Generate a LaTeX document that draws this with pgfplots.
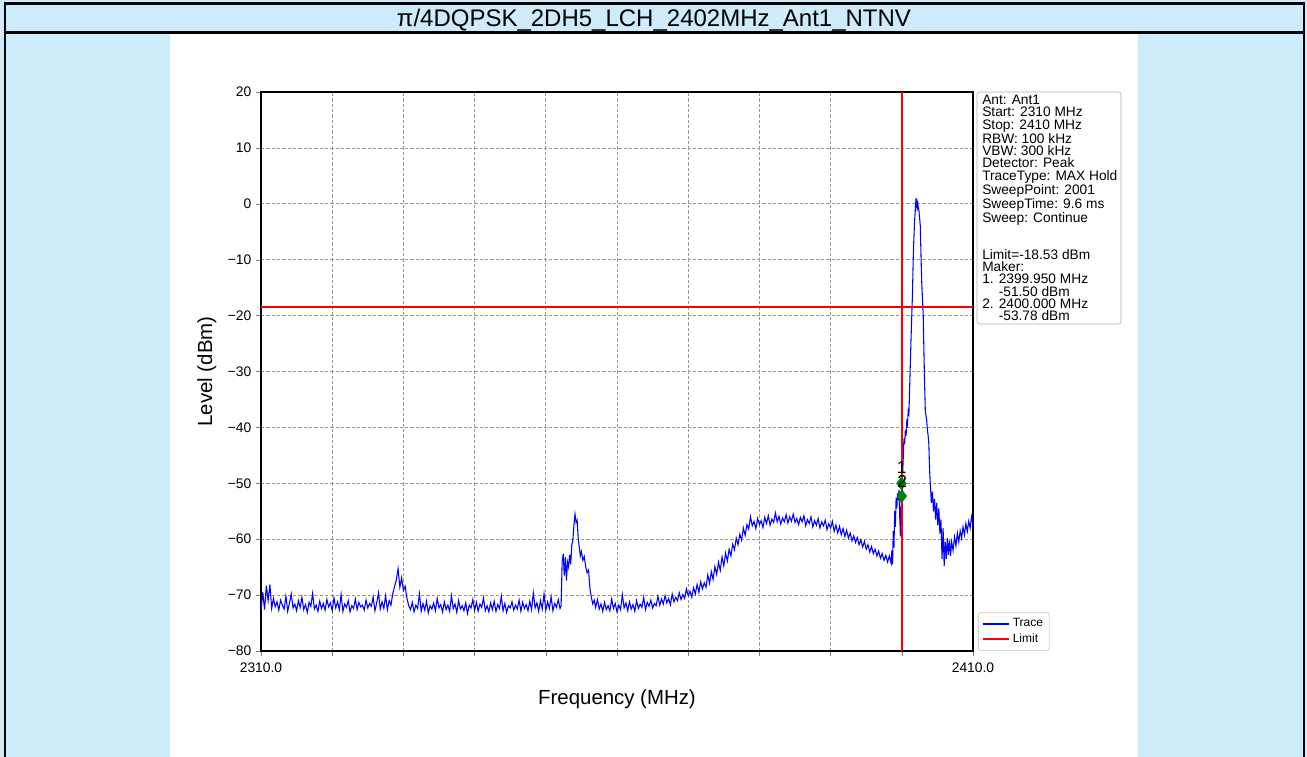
\documentclass[border=0pt]{standalone}
\usepackage{fontspec}
\setmainfont{Liberation Sans}
\usepackage{pgfplots}
\usepackage{pgfplotstable}
\pgfplotsset{compat=1.18}
\definecolor{bgblue}{HTML}{CDEBFA}
\definecolor{mgreen}{HTML}{008000}
\definecolor{limred}{HTML}{FF0000}
\definecolor{trblue}{HTML}{0000FF}
\pgfplotstableread{
f l
2310.00 -72.8
2310.25 -69.5
2310.50 -72.6
2310.75 -68.3
2311.00 -71.0
2311.25 -68.1
2311.50 -72.4
2311.75 -70.6
2312.00 -72.1
2312.25 -71.2
2312.50 -72.7
2312.75 -70.9
2313.00 -71.8
2313.25 -72.5
2313.50 -70.2
2313.75 -72.9
2314.00 -71.4
2314.25 -69.8
2314.50 -72.3
2314.75 -71.6
2315.00 -72.8
2315.25 -71.0
2315.50 -72.2
2315.75 -70.4
2316.00 -72.6
2316.25 -71.7
2316.50 -73.1
2316.75 -71.3
2317.00 -72.0
2317.25 -69.7
2317.50 -72.5
2317.75 -71.8
2318.00 -72.9
2318.25 -71.1
2318.50 -72.4
2318.75 -71.5
2319.00 -72.7
2319.25 -70.8
2319.50 -72.1
2319.75 -71.4
2320.00 -72.8
2320.25 -70.5
2320.50 -72.3
2320.75 -71.2
2321.00 -72.6
2321.25 -69.9
2321.50 -72.9
2321.75 -71.6
2322.00 -72.2
2322.25 -71.0
2322.50 -73.0
2322.75 -71.9
2323.00 -72.4
2323.25 -70.7
2323.50 -72.6
2323.75 -71.3
2324.00 -72.1
2324.25 -71.8
2324.50 -72.7
2324.75 -70.9
2325.00 -72.3
2325.25 -71.5
2325.50 -72.0
2325.75 -70.3
2326.00 -72.8
2326.25 -71.4
2326.50 -69.6
2326.75 -72.5
2327.00 -71.2
2327.25 -72.4
2327.50 -70.1
2327.75 -72.6
2328.00 -71.0
2328.25 -71.8
2328.50 -69.8
2328.75 -68.5
2329.00 -67.3
2329.25 -65.3
2329.50 -68.6
2329.75 -66.9
2330.00 -69.2
2330.25 -68.4
2330.50 -70.6
2330.75 -71.9
2331.00 -72.6
2331.25 -71.3
2331.50 -73.0
2331.75 -71.8
2332.00 -72.4
2332.25 -69.8
2332.50 -72.9
2332.75 -71.5
2333.00 -72.7
2333.25 -71.1
2333.50 -73.2
2333.75 -71.9
2334.00 -72.5
2334.25 -71.4
2334.50 -72.8
2334.75 -70.6
2335.00 -72.3
2335.25 -71.7
2335.50 -73.0
2335.75 -71.2
2336.00 -72.6
2336.25 -71.8
2336.50 -72.9
2336.75 -70.1
2337.00 -72.4
2337.25 -71.6
2337.50 -73.1
2337.75 -71.0
2338.00 -72.5
2338.25 -71.9
2338.50 -72.8
2338.75 -71.4
2339.00 -73.3
2339.25 -71.8
2339.50 -72.3
2339.75 -70.8
2340.00 -72.7
2340.25 -71.3
2340.50 -72.9
2340.75 -71.6
2341.00 -72.2
2341.25 -70.5
2341.50 -72.8
2341.75 -71.9
2342.00 -73.0
2342.25 -71.4
2342.50 -72.6
2342.75 -71.1
2343.00 -72.9
2343.25 -71.7
2343.50 -72.4
2343.75 -70.2
2344.00 -72.8
2344.25 -71.5
2344.50 -73.1
2344.75 -71.9
2345.00 -72.3
2345.25 -71.2
2345.50 -72.7
2345.75 -71.8
2346.00 -72.5
2346.25 -70.9
2346.50 -72.9
2346.75 -71.3
2347.00 -72.4
2347.25 -71.7
2347.50 -72.8
2347.75 -71.1
2348.00 -72.6
2348.25 -69.6
2348.50 -72.3
2348.75 -71.4
2349.00 -72.9
2349.25 -71.0
2349.50 -72.5
2349.75 -69.8
2350.00 -72.7
2350.25 -71.2
2350.50 -72.4
2350.75 -70.3
2351.00 -72.8
2351.25 -71.5
2351.50 -72.2
2351.75 -70.8
2352.00 -72.4
2352.15 -71.9
2352.30 -64.0
2352.45 -62.6
2352.60 -66.5
2352.75 -63.2
2352.90 -67.4
2353.05 -64.1
2353.20 -65.0
2353.35 -62.8
2353.50 -64.5
2353.65 -61.0
2353.80 -60.2
2353.95 -57.5
2354.10 -55.5
2354.25 -57.0
2354.40 -56.6
2354.55 -59.8
2354.70 -61.5
2354.85 -63.0
2355.00 -62.2
2355.20 -63.8
2355.40 -63.1
2355.60 -64.9
2355.80 -66.0
2356.00 -65.5
2356.20 -68.8
2356.40 -70.4
2356.60 -71.6
2356.80 -70.9
2357.00 -72.2
2357.25 -70.8
2357.50 -72.5
2357.75 -71.6
2358.00 -72.9
2358.25 -71.3
2358.50 -72.6
2358.75 -71.9
2359.00 -72.8
2359.25 -70.7
2359.50 -72.4
2359.75 -71.5
2360.00 -73.0
2360.25 -71.8
2360.50 -72.6
2360.75 -69.9
2361.00 -72.3
2361.25 -71.4
2361.50 -72.8
2361.75 -71.2
2362.00 -72.5
2362.25 -71.7
2362.50 -72.9
2362.75 -71.0
2363.00 -72.4
2363.25 -71.6
2363.50 -72.2
2363.75 -70.4
2364.00 -72.6
2364.25 -71.3
2364.50 -72.0
2364.75 -70.9
2365.00 -72.3
2365.25 -71.5
2365.50 -71.9
2365.75 -70.2
2366.00 -71.8
2366.25 -70.7
2366.50 -71.6
2366.75 -70.1
2367.00 -71.4
2367.25 -70.6
2367.50 -71.7
2367.75 -69.8
2368.00 -71.2
2368.25 -70.4
2368.50 -71.0
2368.75 -69.6
2369.00 -70.8
2369.25 -69.9
2369.50 -70.6
2369.75 -68.9
2370.00 -70.1
2370.25 -69.3
2370.50 -70.4
2370.75 -68.7
2371.00 -69.8
2371.25 -68.1
2371.50 -69.5
2371.75 -67.6
2372.00 -68.9
2372.25 -67.8
2372.50 -68.6
2372.75 -66.4
2373.00 -67.9
2373.25 -65.8
2373.50 -67.2
2373.75 -64.9
2374.00 -66.3
2374.25 -64.1
2374.50 -65.6
2374.75 -63.2
2375.00 -64.8
2375.25 -62.5
2375.50 -63.9
2375.75 -61.8
2376.00 -63.0
2376.25 -60.9
2376.50 -61.9
2376.75 -59.8
2377.00 -61.0
2377.25 -59.1
2377.50 -60.2
2377.75 -58.0
2378.00 -59.3
2378.25 -57.4
2378.50 -58.2
2378.75 -56.0
2379.00 -57.6
2379.25 -56.8
2379.50 -58.1
2379.75 -56.3
2380.00 -57.4
2380.25 -56.7
2380.50 -57.9
2380.75 -56.1
2381.00 -57.2
2381.25 -55.8
2381.50 -57.5
2381.75 -56.4
2382.00 -57.0
2382.25 -55.3
2382.50 -56.9
2382.75 -55.9
2383.00 -57.3
2383.25 -56.2
2383.50 -56.9
2383.75 -55.6
2384.00 -57.1
2384.25 -56.0
2384.50 -56.8
2384.75 -55.5
2385.00 -57.0
2385.25 -56.3
2385.50 -57.4
2385.75 -56.1
2386.00 -56.9
2386.25 -55.8
2386.50 -57.6
2386.75 -56.5
2387.00 -57.2
2387.25 -56.0
2387.50 -57.8
2387.75 -56.7
2388.00 -57.5
2388.25 -56.3
2388.50 -58.0
2388.75 -56.9
2389.00 -57.6
2389.25 -56.6
2389.50 -58.3
2389.75 -57.2
2390.00 -58.0
2390.25 -56.8
2390.50 -58.6
2390.75 -57.5
2391.00 -58.9
2391.25 -57.7
2391.50 -59.2
2391.75 -58.1
2392.00 -59.5
2392.25 -58.4
2392.50 -59.8
2392.75 -58.9
2393.00 -60.3
2393.25 -59.4
2393.50 -60.6
2393.75 -59.7
2394.00 -61.0
2394.25 -60.1
2394.50 -61.4
2394.75 -60.4
2395.00 -61.8
2395.25 -61.0
2395.50 -62.3
2395.75 -61.3
2396.00 -62.6
2396.25 -61.8
2396.50 -63.0
2396.75 -62.1
2397.00 -63.4
2397.25 -62.6
2397.50 -63.8
2397.75 -62.9
2398.00 -64.1
2398.25 -63.0
2398.50 -64.3
2398.60 -62.0
2398.70 -64.5
2398.80 -58.5
2398.90 -61.5
2399.00 -55.0
2399.10 -57.8
2399.20 -52.6
2399.30 -54.5
2399.40 -51.8
2399.50 -53.0
2399.60 -51.2
2399.70 -55.6
2399.80 -59.5
2399.90 -53.5
2400.00 -52.0
2400.10 -49.0
2400.20 -45.5
2400.30 -42.0
2400.40 -43.0
2400.50 -40.5
2400.60 -41.5
2400.70 -39.0
2400.80 -39.5
2400.90 -37.0
2401.00 -37.5
2401.10 -33.0
2401.20 -28.5
2401.30 -24.0
2401.40 -20.0
2401.50 -16.0
2401.60 -10.0
2401.70 -6.0
2401.80 -3.0
2401.90 -1.0
2402.00 1.0
2402.05 0.2
2402.10 0.8
2402.15 -1.2
2402.20 0.5
2402.30 -0.5
2402.40 -1.2
2402.50 -2.5
2402.60 -4.0
2402.70 -9.5
2402.80 -14.0
2402.90 -17.0
2403.00 -19.5
2403.10 -26.0
2403.20 -32.0
2403.30 -37.0
2403.40 -38.0
2403.50 -38.8
2403.60 -40.5
2403.70 -41.5
2403.80 -43.0
2403.90 -47.5
2404.00 -50.0
2404.15 -53.5
2404.30 -51.5
2404.45 -55.0
2404.60 -52.8
2404.75 -56.5
2404.90 -53.5
2405.05 -57.5
2405.20 -54.5
2405.35 -59.0
2405.50 -56.5
2405.65 -63.5
2405.80 -58.0
2405.95 -64.8
2406.10 -60.5
2406.25 -63.5
2406.40 -59.8
2406.55 -62.8
2406.70 -60.2
2406.85 -63.0
2407.00 -60.5
2407.20 -62.0
2407.40 -59.6
2407.60 -61.2
2407.80 -58.9
2408.00 -60.5
2408.20 -58.5
2408.40 -59.8
2408.60 -57.8
2408.80 -59.2
2409.00 -57.2
2409.20 -58.6
2409.40 -56.8
2409.60 -58.0
2409.80 -56.0
2410.00 -57.5
}\trace
\pgfplotstableread{
f l
2310 -18.53
2410 -18.53
}\limitline
\pgfplotstableread{
f l
2400 -80
2400 20
}\markerline
\begin{document}
\begin{tikzpicture}[x=0.75pt,y=0.75pt]
\useasboundingbox (0,0) rectangle (1307,757);
\fill[bgblue] (0,0) rectangle (1307,757);
\fill[white] (170,0) rectangle (1138,724);
\draw[line width=1.6pt] (5,0) -- (5,753.5) -- (1304,753.5) -- (1304,0);
\draw[line width=1.6pt] (5,724.5) -- (1304,724.5);
\node[font=\fontsize{18}{20}\selectfont] at (654,737) {π/4DQPSK\_2DH5\_LCH\_2402MHz\_Ant1\_NTNV};
\begin{axis}[
  at={(195.75pt,79.5pt)}, anchor=south west,
  scale only axis, width=534pt, height=419.25pt,
  xmin=2310, xmax=2410, ymin=-80, ymax=20,
  xtick={2310,2320,...,2410},
  xticklabels={2310.0,,,,,,,,,,2410.0},
  ytick={-80,-70,...,20},
  yticklabels={−80,−70,−60,−50,−40,−30,−20,−10,0,10,20},
  tick label style={font=\fontsize{10.4}{12}\selectfont},
  xticklabel style={yshift=-1.5pt},
  grid=major,
  major grid style={dash pattern=on 2.5pt off 1.5pt, color=black!40, line width=0.5pt},
  tick align=outside, tick pos=left,
  major tick length=3.75pt,
  axis line style={line width=0.9pt},
  xlabel={Frequency (MHz)}, ylabel={Level (dBm)},
  label style={font=\fontsize{15.3}{17}\selectfont},
  xlabel style={at={(axis description cs:0.5,-0.086)}, anchor=center},
  ylabel style={at={(axis description cs:-0.076,0.5)}, anchor=center},
  legend style={at={(1.007,0)}, anchor=south west, draw=black!25, rounded corners=2pt,
    font=\fontsize{9}{10.5}\selectfont, row sep=0pt, inner sep=2.5pt},
  legend image code/.code={\draw[mark repeat=2,mark phase=2,#1] plot coordinates {(0cm,0cm) (0.35cm,0cm) (0.7cm,0cm)};},
  legend image post style={line width=1.5pt},
  legend cell align=left,
]
\addplot[color=trblue, line width=0.8pt] table[x=f, y=l] {\trace};
\addlegendentry{Trace}
\addplot[color=limred, line width=1.5pt] table[x=f, y=l] {\limitline};
\addlegendentry{Limit}
\addplot[color=limred, line width=1.2pt, forget plot] table[x=f, y=l] {\markerline};
\addplot[only marks, mark=diamond*, mark size=4.8pt, color=mgreen, forget plot]
  coordinates {(2399.95,-50.0) (2400.0,-52.3)};
\coordinate (lab1) at (axis cs:2400.0,-47.2);
\coordinate (lab2) at (axis cs:2400.05,-49.6);
\end{axis}
\node[font=\fontsize{13}{15}\selectfont, text=black] at (lab1) {1};
\node[font=\fontsize{13}{15}\selectfont, text=black] at (lab2) {2};
\draw[black!30, rounded corners=2pt, fill=white] (977,665) rectangle (1121,433);
\node[anchor=north west, align=left, inner sep=0pt, font=\fontsize{10.3}{9.2}\selectfont] at (982,662) {%
Ant: Ant1\\
Start: 2310 MHz\\
Stop: 2410 MHz\\
RBW: 100 kHz\\
VBW: 300 kHz\\
Detector: Peak\\
TraceType: MAX Hold\\
SweepPoint: 2001\\
SweepTime: 9.6 ms\\
Sweep: Continue\\
\mbox{}\\
\mbox{}\\
Limit=-18.53 dBm\\
Maker:\\
1. 2399.950 MHz\\
\hphantom{1. }-51.50 dBm\\
2. 2400.000 MHz\\
\hphantom{1. }-53.78 dBm};
\end{tikzpicture}
\end{document}
